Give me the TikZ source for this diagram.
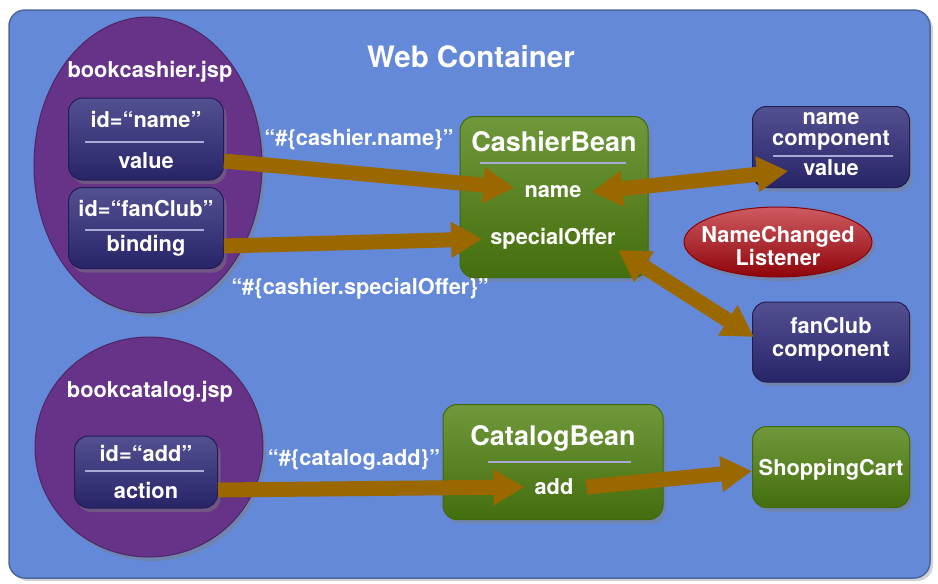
\documentclass[tikz,border=0pt]{standalone}
\usepackage{fontspec}
\setmainfont{TeX Gyre Heros}
\usetikzlibrary{shapes.geometric,arrows.meta,shadows}
\definecolor{bgblue}{RGB}{100,137,216}
\definecolor{jspurple}{RGB}{102,51,136}
\definecolor{navy}{RGB}{46,42,122}
\definecolor{beangreen}{RGB}{80,130,16}
\definecolor{lred}{RGB}{178,4,12}
\definecolor{arrowbrown}{RGB}{155,104,0}
\definecolor{divline}{RGB}{170,170,215}
\begin{document}
\begin{tikzpicture}[x=1pt,y=-1pt,
  lbl/.style={text=white,font=\fontsize{21.8}{19}\selectfont\bfseries,inner sep=0pt,align=center},
  title/.style={text=white,font=\fontsize{27}{28}\selectfont\bfseries,inner sep=0pt},
  shad/.style={drop shadow={opacity=0.45,shadow xshift=3pt,shadow yshift=-4pt}},
  navybox/.style={rectangle,draw=navy!70!black,line width=1pt,rounded corners=14pt,
    top color=navy!82!white,middle color=navy,bottom color=navy!85!black,shad},
  greenbox/.style={rectangle,draw=beangreen!80!black,line width=1pt,rounded corners=14pt,
    top color=beangreen!82!white,middle color=beangreen,bottom color=beangreen!85!black,shad},
  jsp/.style={ellipse,draw=jspurple!75!black,line width=1pt,fill=jspurple,shad},
  listener/.style={ellipse,draw=lred!75!black,line width=1pt,
    top color=lred!65!white,middle color=lred,bottom color=lred!80!black,shad},
  divider/.style={draw=divline,line width=2pt},
  flow/.style={draw=arrowbrown,line width=15pt,-{Triangle[length=31pt,width=34pt]}},
  flowtwo/.style={draw=arrowbrown,line width=15pt,{Triangle[length=31pt,width=34pt]}-{Triangle[length=31pt,width=34pt]}},
]
% canvas
\path[use as bounding box,fill=white] (0,0) rectangle (938,584);
\draw[draw=bgblue!75!black,line width=1.5pt,fill=bgblue,rounded corners=16pt,
  drop shadow={opacity=0.35,shadow xshift=3pt,shadow yshift=-3pt}] (9,10) rectangle (930,578);
\node[title,font=\fontsize{29.5}{30}\selectfont\bfseries] (web) at (471,57) {Web Container};

% JSP pages
\node[jsp,minimum width=228pt,minimum height=296pt] (bcash) at (148,165) {};
\node[jsp,minimum width=228pt,minimum height=220pt] (bcat) at (149,447) {};
\node[lbl] (bcashlbl) at (150,72) {bookcashier.jsp};
\node[lbl] (bcatlbl) at (150,392) {bookcatalog.jsp};

% component boxes in pages
\node[navybox,minimum width=155pt,minimum height=82pt] (bnamebox) at (146,139) {};
\node[navybox,minimum width=155pt,minimum height=81pt] (bfanbox) at (146,228) {};
\node[navybox,minimum width=143pt,minimum height=72pt] (addbox) at (146,472) {};

% beans and components
\node[greenbox,minimum width=188pt,minimum height=161pt] (cbbox) at (554,197) {};
\node[greenbox,minimum width=220pt,minimum height=115pt] (catbox) at (553,462) {};
\node[greenbox,minimum width=157pt,minimum height=81pt] (scbox) at (831,467) {};
\node[navybox,minimum width=157pt,minimum height=81pt] (ncbox) at (831,147) {};
\node[navybox,minimum width=157pt,minimum height=80pt] (fcbox) at (831,342) {};
\node[listener,minimum width=188pt,minimum height=70pt] (ncl) at (778,242) {};

% texts
\node[lbl] (bnameid) at (146,119) {id=“name”};
\node[lbl] (bnameval) at (146,161) {value};
\node[lbl] (bfanid) at (146,209) {id=“fanClub”};
\node[lbl] (bfanval) at (146,246) {binding};
\node[lbl] (addid) at (146,453) {id=“add”};
\node[lbl] (addact) at (146,490) {action};
\node[title] (cbtitle) at (554,142) {CashierBean};
\node[lbl] (cbname) at (553,192) {name};
\node[lbl] (cbspecial) at (553,239) {specialOffer};
\node[title] (cattitle) at (553,438) {CatalogBean};
\node[lbl] (cbadd) at (554,487) {add};
\node[lbl] (sctxt) at (831,470) {ShoppingCart};
\node[lbl,font=\fontsize{21.8}{21}\selectfont\bfseries] (nctxt) at (831,131) {name\\component};
\node[lbl] (ncval) at (831,168) {value};
\node[lbl] (fctxt) at (831,339) {fanClub\\[4pt]component};
\node[lbl,font=\fontsize{21.8}{23}\selectfont\bfseries] (ncltxt) at (778,246) {NameChanged\\Listener};
\node[lbl] (e1) at (359,140) {“\#\{cashier.name\}”};
\node[lbl] (e2) at (360,289) {“\#\{cashier.specialOffer\}”};
\node[lbl] (e3) at (354,460) {“\#\{catalog.add\}”};

% dividers
\draw[divider] (85,142) -- (204,142);
\draw[divider] (85,230) -- (204,230);
\draw[divider] (85,471) -- (204,471);
\draw[divider] (480,163) -- (626,163);
\draw[divider] (488,462) -- (631,462);
\draw[divider] (773,156) -- (893,156);

% connectors
\draw[flow] (bnamebox.east |- bnameval) -- ([shift={(-10,-4)}]cbname.west);
\draw[flow] (bfanbox.east |- bfanval) -- ([xshift=-8pt]cbspecial.west);
\draw[flowtwo] ([xshift=10pt]cbname.east) -- ([shift={(-15,3)}]ncval.west);
\draw[flowtwo] ([shift={(2,11)}]cbspecial.east) -- ([shift={(2,-5)}]fcbox.west);
\draw[flow] (addbox.east |- addact) -- ([xshift=-10pt]cbadd.west);
\draw[flow] ([xshift=13pt]cbadd.east) -- ([shift={(0,4)}]scbox.west);
\end{tikzpicture}
\end{document}
